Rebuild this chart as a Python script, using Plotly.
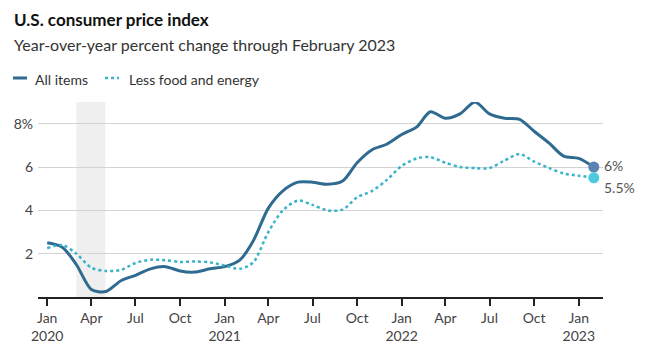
import plotly.graph_objects as go
import pandas as pd

months = pd.date_range("2020-01-01", "2023-02-01", freq="MS")

all_items = [2.5, 2.3, 1.5, 0.35, 0.25, 0.75, 1.0, 1.3, 1.4, 1.2, 1.15, 1.3,
             1.4, 1.7, 2.6, 4.1, 4.9, 5.3, 5.3, 5.2, 5.35, 6.2, 6.8, 7.05,
             7.5, 7.85, 8.55, 8.25, 8.45, 9.0, 8.45, 8.25, 8.2, 7.65, 7.1, 6.5,
             6.4, 6.0]
core = [2.25, 2.4, 2.0, 1.35, 1.2, 1.25, 1.57, 1.72, 1.7, 1.62, 1.64, 1.6,
        1.45, 1.3, 1.6, 3.0, 4.0, 4.45, 4.25, 4.0, 4.03, 4.6, 4.9, 5.4,
        6.05, 6.4, 6.45, 6.2, 6.0, 5.95, 5.95, 6.3, 6.6, 6.25, 5.95, 5.7,
        5.6, 5.5]

tick_dates = pd.date_range("2020-01-01", "2023-01-01", freq="QS")
tick_text = ["Jan<br>2020", "Apr", "Jul", "Oct", "Jan<br>2021", "Apr", "Jul", "Oct",
             "Jan<br>2022", "Apr", "Jul", "Oct", "Jan<br>2023"]
y_ticks = [2, 4, 6, 8]
y_text = ["2", "4", "6", "8%"]
end_labels = ["6%", "5.5%"]

recession = ("2020-03-01", "2020-04-30")

C_ALL = "#2f6b90"
C_CORE = "#38b3c9"
FONT = "Lato"

# page body has an 8px default margin; figure is sized so the window shows it like the reference
OFF = 8
FW, FH = 657 - OFF, 361 - OFF
ML, MR, MT, MB = 38 - OFF, 54, 102 - OFF, 64

fig = go.Figure()
fig.add_trace(go.Scatter(x=months, y=all_items, mode="lines", name="All items",
                         line=dict(color=C_ALL, width=3, shape="spline", smoothing=0.8),
                         showlegend=False, cliponaxis=False))
fig.add_trace(go.Scatter(x=months, y=core, mode="lines", name="Less food and energy",
                         line=dict(color=C_CORE, width=2.5, dash="dot", shape="spline", smoothing=0.8),
                         showlegend=False, cliponaxis=False))
fig.add_trace(go.Scatter(x=[months[-1]], y=[all_items[-1]], mode="markers",
                         marker=dict(color="#5a82b3", size=11),
                         showlegend=False, cliponaxis=False))
fig.add_trace(go.Scatter(x=[months[-1]], y=[core[-1]], mode="markers",
                         marker=dict(color="#4ccbe0", size=11),
                         showlegend=False, cliponaxis=False))

fig.add_vrect(x0=recession[0], x1=recession[1], fillcolor="#efefef", line_width=0, layer="below")

fig.update_layout(
    width=FW, height=FH,
    margin=dict(l=ML, r=MR, t=MT, b=MB),
    paper_bgcolor="white", plot_bgcolor="white",
    font=dict(family=FONT, size=14, color="#444"),
    xaxis=dict(range=["2019-12-13", "2023-02-20"], tickvals=tick_dates, ticktext=tick_text,
               showgrid=False, showline=True, linecolor="#222", linewidth=1.5,
               ticks="outside", ticklen=7, tickcolor="#222", tickwidth=1.5,
               tickfont=dict(size=14, color="#444"), zeroline=False, automargin=False),
    yaxis=dict(range=[0, 9], tickvals=y_ticks, ticktext=y_text, showgrid=True,
               gridcolor="#d3d3d3", gridwidth=1, zeroline=False, showline=False,
               ticks="", tickfont=dict(size=14, color="#444"), ticklabelstandoff=4,
               automargin=False),
    showlegend=False,
)

W = FW - ML - MR
H = FH - MT - MB
def px(x):  # window pixel -> paper coordinate
    return (x - OFF - ML) / W
def py(y):
    return (FH - MB - (y - OFF)) / H

annotations = [
    dict(text="<b>U.S. consumer price index</b>", x=px(12), y=py(20), xref="paper", yref="paper",
         xanchor="left", yanchor="middle", showarrow=False,
         font=dict(family=FONT, size=17, color="#111")),
    dict(text="Year-over-year percent change through February 2023", x=px(12), y=py(45),
         xref="paper", yref="paper", xanchor="left", yanchor="middle", showarrow=False,
         font=dict(family=FONT, size=16, color="#333")),
    dict(text="All items", x=px(33), y=py(79), xref="paper", yref="paper",
         xanchor="left", yanchor="middle", showarrow=False,
         font=dict(family=FONT, size=14, color="#333")),
    dict(text="Less food and energy", x=px(127), y=py(79), xref="paper", yref="paper",
         xanchor="left", yanchor="middle", showarrow=False,
         font=dict(family=FONT, size=14, color="#333")),
    dict(text=end_labels[0], x=months[-1], y=all_items[-1], xref="x", yref="y",
         xanchor="left", yanchor="middle", xshift=8, yshift=2, showarrow=False,
         font=dict(family=FONT, size=14, color="#555")),
    dict(text=end_labels[1], x=months[-1], y=core[-1], xref="x", yref="y",
         xanchor="left", yanchor="middle", xshift=8, yshift=-10, showarrow=False,
         font=dict(family=FONT, size=14, color="#555")),
]
fig.update_layout(annotations=annotations)
fig.add_shape(type="line", xref="paper", yref="paper", x0=px(13), x1=px(27), y0=py(78), y1=py(78),
              line=dict(color=C_ALL, width=3))
fig.add_shape(type="line", xref="paper", yref="paper", x0=px(105), x1=px(119), y0=py(78), y1=py(78),
              line=dict(color=C_CORE, width=2.5, dash="dot"))

fig.write_html("out.html")
